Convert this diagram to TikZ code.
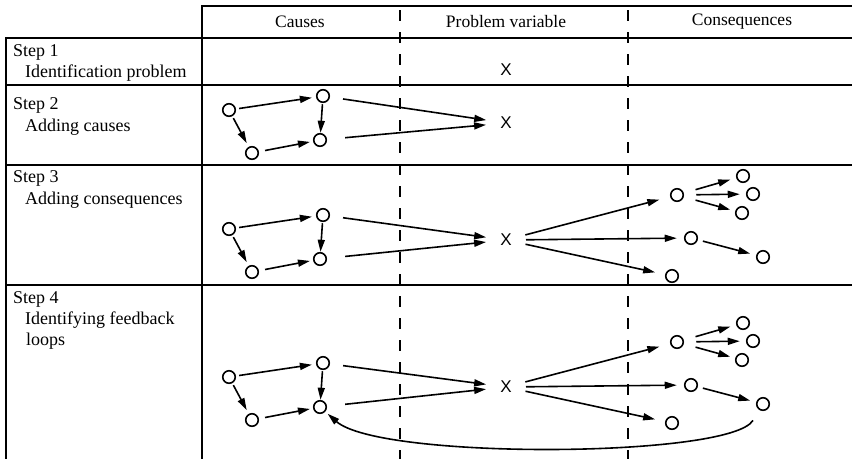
\documentclass[tikz,border=0pt]{standalone}
\usepackage{fontspec}
\setmainfont{Liberation Serif}
\newfontfamily\xfont{Liberation Sans}
\usetikzlibrary{arrows.meta}
\tikzset{
  circ/.style={circle, draw, line width=1.6pt, minimum size=12.5pt, inner sep=0pt, outer sep=0pt},
  xnode/.style={circle, minimum size=40pt, inner sep=0pt, outer sep=0pt, font=\xfont\fontsize{17}{17}\selectfont},
  arr/.style={line width=1.6pt, -{Triangle[length=12pt,width=7pt]}},
  thinrule/.style={line width=1.5pt},
  thickrule/.style={line width=2.4pt},
  dashrule/.style={line width=1.8pt, dash pattern=on 11pt off 11pt, dash phase=-4pt},
  hdr/.style={font=\fontsize{17.5}{17.5}\selectfont, anchor=center},
  lbl/.style={font=\fontsize{18}{18}\selectfont, anchor=west, inner sep=0pt},
}
\newcommand\drawcauses[1]{%
  \node[circ] (A#1) at (229,229) {};
  \node[circ] (B#1) at (323,215) {};
  \node[circ] (C#1) at (252,272) {};
  \node[circ] (D#1) at (320,259) {};
  \draw[arr, shorten <=4pt, shorten >=5pt] (A#1) -- (B#1);
  \draw[arr, shorten <=3pt, shorten >=5pt] (A#1) -- (C#1);
  \draw[arr, shorten <=2pt, shorten >=1pt] (B#1) -- (D#1);
  \draw[arr, shorten <=7pt, shorten >=4pt] (C#1) -- (D#1);
}
\newcommand\drawconseq[1]{%
  \node[circ] (E#1) at (677,195) {};
  \node[circ] (Fa#1) at (743,176) {};
  \node[circ] (Fb#1) at (753,194) {};
  \node[circ] (Fc#1) at (742,213) {};
  \node[circ] (G#1) at (691,238) {};
  \node[circ] (H#1) at (763,257) {};
  \node[circ] (I#1) at (672,276) {};
  \draw[arr, shorten <=13pt, shorten >=7pt] (E#1) -- (Fa#1);
  \draw[arr, shorten <=13pt, shorten >=7pt] (E#1) -- (Fb#1);
  \draw[arr, shorten <=13pt, shorten >=6pt] (E#1) -- (Fc#1);
  \draw[arr, shorten <=6pt, shorten >=7pt] (G#1) -- (H#1);
}
\begin{document}
\begin{tikzpicture}[x=1pt, y=-1pt]
\useasboundingbox (0,0) rectangle (852,459);
% table rules
\coordinate (tl) at (202,6);
\coordinate (tr) at (852,6);
\coordinate (hl) at (5,38);
\coordinate (hr) at (852,38);
\coordinate (r1l) at (5,85);
\coordinate (r1r) at (852,85);
\coordinate (r2l) at (5,165);
\coordinate (r2r) at (852,165);
\coordinate (r3l) at (5,285);
\coordinate (r3r) at (852,285);
\coordinate (lb) at (6,459);
\coordinate (lt) at (6,37);
\coordinate (cb) at (202,459);
\coordinate (ct) at (202,5);
\coordinate (d1t) at (400,6);
\coordinate (d1b) at (400,459);
\coordinate (d2t) at (628,6);
\coordinate (d2b) at (628,459);
\draw[thinrule] (tl) -- (tr);
\draw[thickrule] (hl) -- (hr);
\draw[thinrule] (r1l) -- (r1r);
\draw[thinrule] (r2l) -- (r2r);
\draw[thinrule] (r3l) -- (r3r);
\draw[line width=2.2pt] (lt) -- (lb);
\draw[thickrule] (ct) -- (cb);
\draw[dashrule] (d1t) -- (d1b);
\draw[dashrule] (d2t) -- (d2b);
% headers
\node[hdr] (hc) at (300,22) {Causes};
\node[hdr] (hp) at (506,22) {Problem variable};
\node[hdr] (hq) at (742,22) {Consequences};
% step labels
\node[lbl] (s1) at (13,52) {Step 1};
\node[lbl] (s1b) at (25,73) {Identification problem};
\node[lbl] (s2) at (13,105) {Step 2};
\node[lbl] (s2b) at (25,127) {Adding causes};
\node[lbl] (s3) at (13,178) {Step 3};
\node[lbl] (s3b) at (25,200) {Adding consequences};
\node[lbl] (s4) at (13,299) {Step 4};
\node[lbl] (s4b) at (25,320) {Identifying feedback};
\node[lbl] (s4c) at (26,341) {loops};
% step 1
\node[xnode] (X1) at (506,70) {X};
% step 2
\begin{scope}[shift={(0,-119)}]
\drawcauses{2}
\end{scope}
\node[xnode] (X2) at (506,123) {X};
\draw[arr, shorten <=14pt] (B2) -- (X2);
\draw[arr, shorten <=19pt] (D2) -- (X2);
% step 3
\drawcauses{3}
\node[xnode] (X3) at (506,240) {X};
\draw[arr, shorten <=14pt] (B3) -- (X3);
\draw[arr, shorten <=19pt] (D3) -- (X3);
\drawconseq{3}
\draw[arr, shorten >=12pt] (X3) -- (E3);
\draw[arr, shorten >=8pt] (X3) -- (G3);
\draw[arr, shorten >=11pt] (X3) -- (I3);
% step 4
\begin{scope}[shift={(0,148)}]
\drawcauses{4}
\end{scope}
\node[xnode] (X4) at (506,387) {X};
\draw[arr, shorten <=14pt] (B4) -- (X4);
\draw[arr, shorten <=19pt] (D4) -- (X4);
\begin{scope}[shift={(0,147)}]
\drawconseq{4}
\end{scope}
\draw[arr, shorten >=12pt] (X4) -- (E4);
\draw[arr, shorten >=8pt] (X4) -- (G4);
\draw[arr, shorten >=11pt] (X4) -- (I4);
\draw[arr, shorten <=13pt, shorten >=4pt] (H4) .. controls (730,458) and (380,460) .. (D4);
\end{tikzpicture}
\end{document}
